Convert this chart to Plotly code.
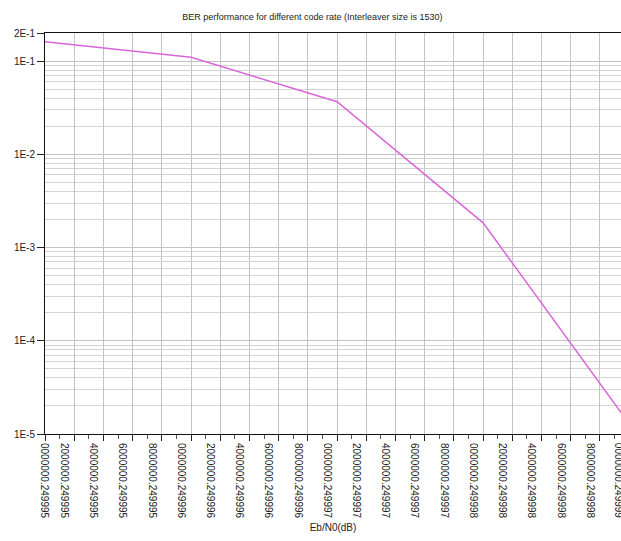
import plotly.graph_objects as go

# data
x_idx = [0, 5, 10, 15, 20]
ber = [0.161, 0.110, 0.0366, 0.00184, 0.0000129]

tick_idx = list(range(21))
tick_labels = [
    "0000000.249995", "2000000.249995", "4000000.249995", "6000000.249995", "8000000.249995",
    "0000000.249996", "2000000.249996", "4000000.249996", "6000000.249996", "8000000.249996",
    "0000000.249997", "2000000.249997", "4000000.249997", "6000000.249997", "8000000.249997",
    "0000000.249998", "2000000.249998", "4000000.249998", "6000000.249998", "8000000.249998",
    "0000000.249999",
]
y_tickvals = [1e-5, 1e-4, 1e-3, 1e-2, 1e-1, 2e-1]
y_ticktext = ["1E-5", "1E-4", "1E-3", "1E-2", "1E-1", "2E-1"]

minor_y = [m * 10.0 ** d for d in range(-5, 0) for m in range(2, 10) if m * 10.0 ** d < 0.19]

FONT = "Liberation Sans, Arial, sans-serif"
X_RANGE = [0, 19.72]

fig = go.Figure()
fig.add_trace(go.Scatter(
    x=x_idx, y=ber, mode="lines",
    line=dict(color="#d966d9", width=1.5),
    showlegend=False,
))

shown = [""] + tick_labels[1:20]
fig.update_layout(
    width=621, height=541,
    margin=dict(l=45, r=0, t=33, b=107, autoexpand=False),
    paper_bgcolor="white", plot_bgcolor="white",
    title=dict(text="BER performance for different code rate (Interleaver size is 1530)",
               x=0.503, xanchor="center", y=0.968, yanchor="middle",
               font=dict(family=FONT, size=9, color="#222"), automargin=False),
    font=dict(family=FONT, size=10, color="#222"),
    xaxis=dict(
        range=X_RANGE, automargin=False,
        tickmode="array", tickvals=tick_idx[:20], ticktext=shown,
        tickangle=90, ticks="outside", ticklen=6, tickcolor="#222",
        ticklabelshift=-10,
        showline=True, linecolor="#111", linewidth=1, mirror=True,
        showgrid=True, gridcolor="#c4c4c4", gridwidth=1,
        zeroline=False,
        tickfont=dict(family=FONT, size=10, color="#222"),
        minor=dict(ticks="outside", ticklen=4, tickcolor="#555", tick0=0.5, dtick=1, showgrid=False),
        title=dict(text="Eb/N0(dB)", font=dict(family=FONT, size=10, color="#222"), standoff=6),
    ),
    yaxis=dict(
        type="log", range=[-5, -0.69897], automargin=False,
        tickmode="array", tickvals=y_tickvals, ticktext=y_ticktext,
        ticks="outside", ticklen=7, tickcolor="#222",
        showline=True, linecolor="#111", linewidth=1,
        showgrid=True, gridcolor="#c4c4c4", gridwidth=1,
        zeroline=False,
        tickfont=dict(family=FONT, size=10, color="#222"),
        minor=dict(tickvals=minor_y, showgrid=True, gridcolor="#d4d4d4", gridwidth=1, ticks=""),
    ),
)

# first and last category labels (first hugs the axis, last is cut at the edge as in the reference)
fig.add_annotation(x=tick_idx[0], y=0, xref="x", yref="paper", text=tick_labels[0],
                   textangle=90, showarrow=False, yanchor="top", xanchor="center",
                   yshift=-7, font=dict(family=FONT, size=10, color="#222"))
fig.add_annotation(x=tick_idx[20] / X_RANGE[1], y=0, xref="paper", yref="paper", text=tick_labels[20],
                   textangle=90, showarrow=False, yanchor="top", xanchor="center",
                   yshift=-7, xshift=-10, font=dict(family=FONT, size=10, color="#222"))

fig.write_html("out.html", config={"displayModeBar": False},
               post_script="document.body.style.margin='0';document.body.style.overflow='hidden';")
